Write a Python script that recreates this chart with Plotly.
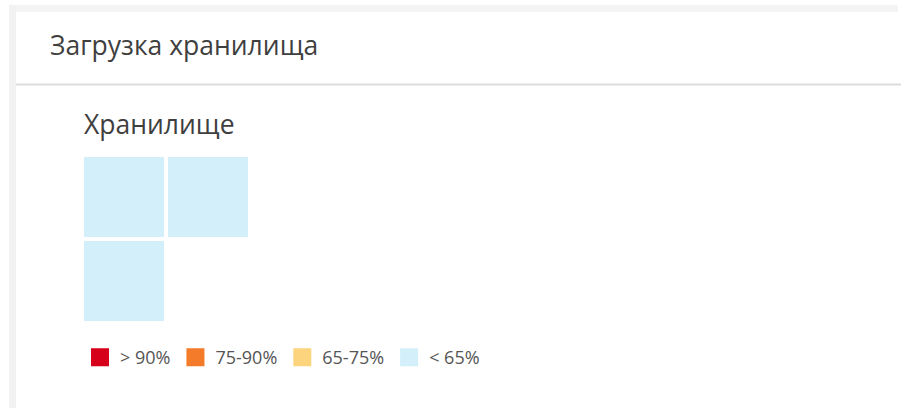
import plotly.graph_objects as go

# storage usage, % (all three volumes sit in the lowest band)
usage = [[18, 22], [15, None]]
volume_names = [["Том 1", "Том 2"], ["Том 3", ""]]

band_labels = ["> 90%", "75-90%", "65-75%", "< 65%"]
band_colors = ["#d7001b", "#f47b2a", "#fdd47e", "#d3eff9"]
band_edges = [65, 75, 90]

panel_title = "Загрузка хранилища"
chart_title = "Хранилище"

W, H = 901, 408


def px(x):
    return x / W


def py(y):
    return 1 - y / H


# discrete colorscale over 0..100 built from the band edges
low_to_high = band_colors[::-1]
stops = [0] + [e / 100 for e in band_edges] + [1]
colorscale = []
for i, c in enumerate(low_to_high):
    colorscale.append([stops[i], c])
    colorscale.append([stops[i + 1], c])

fig = go.Figure()

fig.add_trace(go.Heatmap(
    z=usage,
    text=volume_names,
    zmin=0, zmax=100,
    colorscale=colorscale,
    showscale=False,
    xgap=4, ygap=4,
    hovertemplate="%{text}: %{z}%<extra></extra>",
    showlegend=False,
))

# legend entries for the colour bands
for label, color in zip(band_labels, band_colors):
    fig.add_trace(go.Scatter(
        x=[None], y=[None],
        mode="markers",
        marker=dict(symbol="square", size=16, color=color,
                    line=dict(color=color, width=2)),
        name=label,
        showlegend=True,
    ))

shapes = [
    # page background frame
    dict(type="rect", xref="paper", yref="paper",
         x0=px(9), x1=px(898), y0=py(12), y1=py(5),
         fillcolor="#f4f4f4", line_width=0, layer="below"),
    dict(type="rect", xref="paper", yref="paper",
         x0=px(9), x1=px(16), y0=0, y1=py(5),
         fillcolor="#f2f2f2", line_width=0, layer="below"),
    # header separator
    dict(type="line", xref="paper", yref="paper",
         x0=px(16), x1=1, y0=py(84.5), y1=py(84.5),
         line=dict(color="#dcdcdc", width=2)),
]

annotations = [
    dict(text=panel_title, xref="paper", yref="paper",
         x=px(48), y=py(45), xanchor="left", yanchor="middle",
         showarrow=False, font=dict(size=26.5, color="#3f3f3f")),
    dict(text=chart_title, xref="paper", yref="paper",
         x=px(82), y=py(124), xanchor="left", yanchor="middle",
         showarrow=False, font=dict(size=26.5, color="#3f3f3f")),
]

fig.update_layout(
    width=W, height=H,
    margin=dict(l=0, r=0, t=0, b=0),
    paper_bgcolor="white",
    plot_bgcolor="rgba(0,0,0,0)",
    font=dict(family="Open Sans, sans-serif", color="#555555"),
    xaxis=dict(domain=[px(82), px(250)], range=[-0.5, 1.5],
               visible=False, fixedrange=True),
    yaxis=dict(domain=[py(323), py(155)], range=[1.5, -0.5],
               visible=False, fixedrange=True),
    shapes=shapes,
    annotations=annotations,
    showlegend=True,
    legend=dict(orientation="h", x=px(80), xanchor="left",
                y=py(357.5), yanchor="middle",
                font=dict(size=18, color="#555555"),
                bgcolor="rgba(0,0,0,0)", itemclick=False,
                itemdoubleclick=False),
)

# drop the browser's default body margin so the figure fills the window
fig.write_html("out.html", config={"displayModeBar": False},
               post_script="document.body.style.margin = '0';")
